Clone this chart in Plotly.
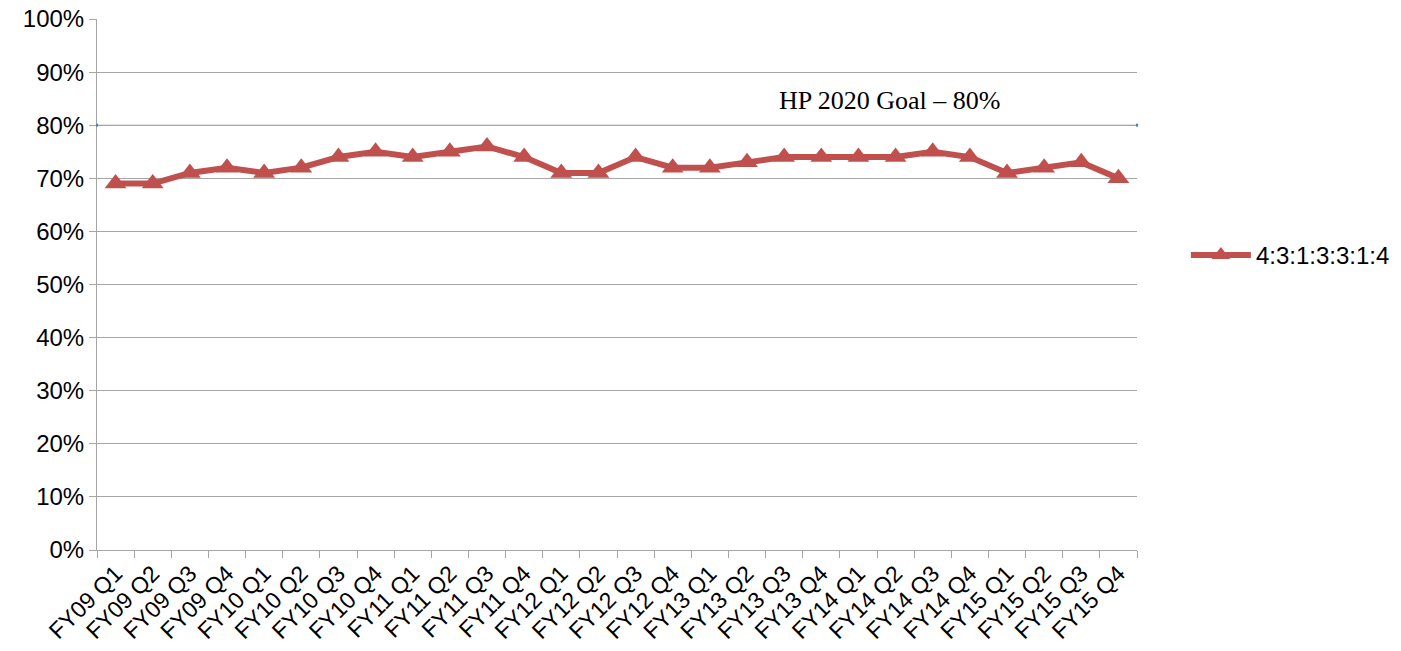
import plotly.graph_objects as go

categories = ["FY09 Q1", "FY09 Q2", "FY09 Q3", "FY09 Q4",
              "FY10 Q1", "FY10 Q2", "FY10 Q3", "FY10 Q4",
              "FY11 Q1", "FY11 Q2", "FY11 Q3", "FY11 Q4",
              "FY12 Q1", "FY12 Q2", "FY12 Q3", "FY12 Q4",
              "FY13 Q1", "FY13 Q2", "FY13 Q3", "FY13 Q4",
              "FY14 Q1", "FY14 Q2", "FY14 Q3", "FY14 Q4",
              "FY15 Q1", "FY15 Q2", "FY15 Q3", "FY15 Q4"]
values = [69, 69, 71, 72,
          71, 72, 74, 75,
          74, 75, 76, 74,
          71, 71, 74, 72,
          72, 73, 74, 74,
          74, 74, 75, 74,
          71, 72, 73, 70]
series_name = "4:3:1:3:3:1:4"
goal_value = 80
goal_label = "HP 2020 Goal – 80%"
y_ticks = [0, 10, 20, 30, 40, 50, 60, 70, 80, 90, 100]

fig = go.Figure()
fig.add_trace(go.Scatter(
    x=categories, y=values, name=series_name, mode="lines+markers",
    line=dict(color="#C0504D", width=6),
    marker=dict(symbol="triangle-up", size=19, color="#C0504D"),
))

# goal line (drawn in gray like gridline, blue ends)
fig.add_shape(type="line", xref="paper", yref="y", x0=0, x1=1, y0=goal_value, y1=goal_value,
              line=dict(color="#A6A6A6", width=1), layer="below")
fig.add_shape(type="line", xref="paper", yref="y", x0=-0.001, x1=0.001, y0=goal_value, y1=goal_value,
              line=dict(color="#4F81BD", width=3))
fig.add_shape(type="line", xref="paper", yref="y", x0=0.999, x1=1.001, y0=goal_value, y1=goal_value,
              line=dict(color="#4F81BD", width=3))
fig.add_annotation(text=goal_label, xref="paper", yref="y", x=0.762, y=goal_value + 4.7,
                   showarrow=False, xanchor="center", yanchor="middle",
                   font=dict(family="Liberation Serif", size=26, color="black"))

fig.update_layout(
    width=1401, height=651,
    margin=dict(l=97, r=264, t=19, b=101, autoexpand=False),
    plot_bgcolor="white", paper_bgcolor="white",
    font=dict(family="Liberation Sans, Arial", color="black"),
    showlegend=True,
    legend=dict(x=1.047, y=0.555, xanchor="left", yanchor="middle",
                font=dict(size=24, family="Liberation Sans, Arial"),
                itemwidth=60),
    xaxis=dict(type="category", showgrid=False, showline=True, linecolor="#A6A6A6", linewidth=1,
               ticks="outside", tickson="boundaries", ticklen=7, tickcolor="#A6A6A6",
               tickangle=-45, tickfont=dict(size=23, color="black"), automargin=False,
               ticklabeloverflow="allow",
               range=[-0.5, len(categories) - 0.5]),
    yaxis=dict(range=[0, 100], tickvals=y_ticks, ticktext=[f"{v}%" for v in y_ticks],
               showgrid=True, gridcolor="#A6A6A6", gridwidth=1,
               showline=True, linecolor="#A6A6A6", linewidth=1,
               ticks="outside", ticklen=7, tickcolor="#A6A6A6",
               ticklabeloverflow="allow",
               tickfont=dict(size=24, color="black"), zeroline=False, automargin=False),
)

fig.write_html("out.html", config={"displayModeBar": False},
               post_script="document.body.style.margin='0';document.body.style.overflow='hidden';")
